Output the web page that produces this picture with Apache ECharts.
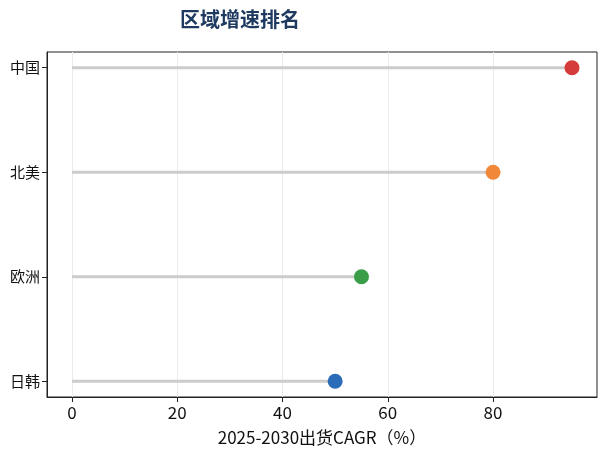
<!DOCTYPE html>
<html><head><meta charset="utf-8">
<script src="https://cdn.jsdelivr.net/npm/echarts@6/dist/echarts.min.js"></script>
<style>html,body{margin:0;padding:0;background:#fff}#c{width:605px;height:456px}</style>
</head><body><div id="c"></div>
<script>
const regions = ['日韩', '欧洲', '北美', '中国'];
const cagr = [50, 55, 80, 95];
const dotColors = ['#2b6cb8', '#3a9e48', '#f0883a', '#d63b3b'];
const xTicks = [0, 20, 40, 60, 80];
const titleText = '区域增速排名';
const xName = '2025-2030出货CAGR（%）';

const font = '"Noto Sans CJK SC", "Noto Sans", sans-serif';
const chart = echarts.init(document.getElementById('c'));
const stems = regions.map((r, i) => ({
  type: 'line', silent: true, symbol: 'none', z: 2,
  data: [[0, i], [cagr[i], i]],
  lineStyle: { color: '#cccccc', width: 3 }
}));
chart.setOption({
  animation: false,
  title: { text: titleText, left: 235, top: 4, textAlign: 'center',
    textStyle: { fontFamily: font, fontSize: 20, fontWeight: 'bold', color: '#1f3a60' } },
  grid: { left: 47, right: 8, top: 52, bottom: 59, show: true, borderColor: '#222', borderWidth: 1, backgroundColor: 'transparent' },
  xAxis: {
    type: 'value', min: -4.75, max: 99.75,
    name: xName, nameLocation: 'middle', nameGap: 32,
    nameTextStyle: { fontFamily: font, fontSize: 17, color: '#111' },
    axisLine: { show: true, onZero: false, lineStyle: { color: '#222', width: 1 } },
    axisTick: { show: true, customValues: xTicks, length: 5, lineStyle: { color: '#222' } },
    axisLabel: { customValues: xTicks, fontFamily: font, fontSize: 17, color: '#111', margin: 7 },
    splitLine: { show: true, lineStyle: { color: '#ebebeb', width: 1 } }
  },
  yAxis: {
    type: 'value', min: -0.15, max: 3.15,
    axisLine: { show: true, onZero: false, lineStyle: { color: '#222', width: 1 } },
    axisTick: { show: true, customValues: [0, 1, 2, 3], length: 5, lineStyle: { color: '#222' } },
    axisLabel: { customValues: [0, 1, 2, 3], fontFamily: font, fontSize: 15, color: '#111', margin: 7,
      formatter: v => regions[Math.round(v)] || '' },
    splitLine: { show: false }
  },
  series: stems.concat([{
    type: 'scatter', symbolSize: 15, z: 3,
    data: regions.map((r, i) => ({ value: [cagr[i], i], itemStyle: { color: dotColors[i], opacity: 1 } }))
  }])
});
</script></body></html>
